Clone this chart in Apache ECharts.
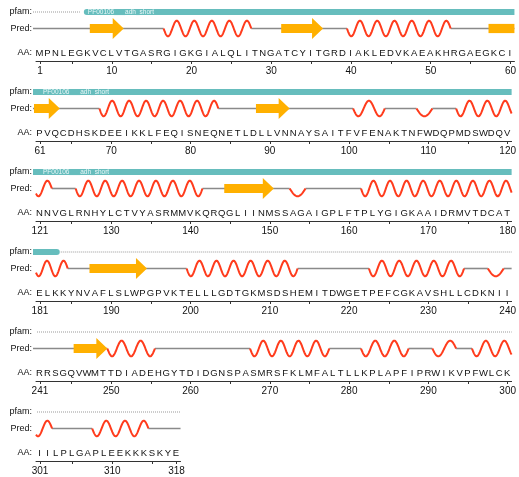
<!DOCTYPE html>
<html><head><meta charset="utf-8">
<script src="https://cdn.jsdelivr.net/npm/echarts@6/dist/echarts.min.js"></script>
<style>html,body{margin:0;padding:0;background:#fff}#c{width:519px;height:477px}</style>
</head><body><div id="c"></div>
<script>
// ---------- data ----------
const sequence =
  "MPNLEGKVCLVTGASRGIGKGIALQLITNGATCYITGRDIAKLEDVKAEAKHRGAEGKCI" +
  "PVQCDHSKDEEIKKLFEQISNEQNETLDLLVNNAYSAITFVFENAKTNFWDQPMDSWDQV" +
  "NNVGLRNHYLCTVYASRMMVKQRQGLIINMSSAGAIGPLFTPLYGIGKAAIDRMVTDCAT" +
  "ELKKYNVAFLSLWPGPVKTELLLGDTGKMSDSHEMITDWGETPEFCGKAVSHLLCDKNII" +
  "RRSGQVWMTTDIADEHGYTDIDGNSPASMRSFKLMFALTLLKPLAPFIPRWIKVPFWLCK" +
  "IILPLGAPLEEKKKSKYE";
const helixSegments = [[17,27],[40,52],[69,83],[101,104],[109,110],[114,122],[126,141],[153,154],
  [162,184],[200,213],[223,234],[238,239],[250,255],[268,277],[282,287],[291,293],[296,302],[308,314]];
const strandSegments = [[8,11],[32,36],[58,63],[89,92],[145,150],[188,194],[246,249]];
const pfamName = "PF00106___adh_short";
const pfamStart = 7;
const pfamEnd = 183;
const trackLabels = ["pfam:", "Pred:", "AA:"];

// ---------- layout / style ----------
const ROW = 60, PITCH = 80, LEFT = 36, RW = 8.03;
const Y_PFAM = 12, Y_PRED = 28.5, Y_AA = 53, Y_AXIS = 61;
const AMP = 7.8;
const FONT = "'Liberation Sans', Arial, Helvetica, sans-serif";
const C_HELIX = "#ff3b1c", C_STRAND = "#ffb000", C_COIL = "#8a8a8a", C_PFAM = "#66bdbd";

const N = sequence.length;
const nRows = Math.ceil(N / ROW);
const isHelix = new Array(N + 2).fill(false);
helixSegments.forEach(([s, e]) => { for (let r = s; r <= e; r++) isHelix[r] = true; });
const coilRuns = [];
for (let r = 1; r <= N; r++) {
  if (!isHelix[r]) {
    let e = r; while (e + 1 <= N && !isHelix[e + 1]) e++;
    coilRuns.push([r, e]); r = e;
  }
}

const grid = [], xAxis = [], yAxis = [], series = [];
for (let k = 0; k < nRows; k++) {
  const o = k * ROW, cnt = Math.min(ROW, N - o);
  const lo = o + 0.5, hi = o + cnt + 0.5;
  grid.push({ left: LEFT, top: k * PITCH, width: RW * cnt, height: Y_AXIS });
  const ticks = [o + 1];
  for (let v = Math.ceil((o + 2) / 5) * 5; v <= o + cnt; v += 5) ticks.push(v);
  if (ticks[ticks.length - 1] !== o + cnt) ticks.push(o + cnt);
  const labels = [o + 1];
  for (let v = Math.ceil((o + 2) / 10) * 10; v <= o + cnt; v += 10) labels.push(v);
  if (labels[labels.length - 1] !== o + cnt) labels.push(o + cnt);
  xAxis.push({
    gridIndex: k, type: "value", min: lo, max: hi,
    axisLine: { show: true, onZero: false, lineStyle: { color: "#333", width: 1 } },
    axisTick: { show: true, customValues: ticks, length: 3, lineStyle: { color: "#333" } },
    axisLabel: { customValues: labels, fontSize: 10, color: "#111", margin: 5, fontFamily: FONT },
    splitLine: { show: false }
  });
  yAxis.push({
    gridIndex: k, type: "value", min: 0, max: Y_AXIS, inverse: true,
    axisLine: { show: false }, axisTick: { show: false }, splitLine: { show: false },
    axisLabel: {
      customValues: [Y_PFAM, Y_PRED, Y_AA], margin: 4, fontSize: 9, color: "#111", fontFamily: FONT,
      formatter: v => v === Y_PFAM ? trackLabels[0] : (v === Y_PRED ? trackLabels[1] : trackLabels[2])
    }
  });
  const clip = (s, e) => [Math.max(s - 0.5, lo), Math.min(e + 0.5, hi)];

  // pfam track
  const pfamData = [];
  {
    const [a, b] = clip(pfamStart, pfamEnd);
    if (a < b) pfamData.push([a, b, 0, pfamStart - 0.5 >= lo ? 1 : 0, pfamEnd + 0.5 <= hi ? 1 : 0]);
    if (pfamStart - 0.5 > lo) pfamData.push([lo, Math.min(pfamStart - 0.5, hi), 1, 0, 1]);
    if (pfamEnd + 0.5 < hi) pfamData.push([Math.max(pfamEnd + 0.5, lo), hi, 1, 1, 0]);
  }
  series.push({
    type: "custom", xAxisIndex: k, yAxisIndex: k, data: pfamData, silent: true,
    renderItem: (p, api) => {
      const a = api.value(0), b = api.value(1), kind = api.value(2);
      const p0 = api.coord([a, Y_PFAM]), p1 = api.coord([b, Y_PFAM]);
      if (kind === 0) {
        const rl = api.value(3) ? 3 : 0, rr = api.value(4) ? 3 : 0;
        const x0 = rl ? p0[0] : p0[0] - 3;
        const ch = [{ type: "rect", shape: { x: x0, y: p0[1] - 3, width: p1[0] - x0, height: 6, r: [rl, rr, rr, rl] },
          style: { fill: C_PFAM } }];
        if (p1[0] - p0[0] > 90) {
          ch.push({ type: "text", style: { text: pfamName, x: p0[0] + (rl ? 4 : 7), y: p0[1] + 0.5, fill: "#e9f7f7",
            fontSize: 6.5, fontFamily: FONT, align: "left", verticalAlign: "middle" } });
        }
        return { type: "group", children: ch };
      }
      const g0 = api.value(3) ? 4 : 0, g1 = api.value(4) ? 4 : 0;
      return { type: "line", shape: { x1: p0[0] - 3 + g0, y1: p0[1], x2: p1[0] - g1, y2: p1[1] },
        style: { stroke: "#999", lineWidth: 1, lineDash: [1, 1] } };
    }
  });

  // coil
  const coilData = [];
  coilRuns.forEach(([s, e]) => { const [a, b] = clip(s, e); if (a < b) coilData.push([a, b, a === lo ? 1 : 0]); });
  series.push({
    type: "custom", xAxisIndex: k, yAxisIndex: k, data: coilData, silent: true,
    renderItem: (p, api) => {
      const p0 = api.coord([api.value(0), Y_PRED]), p1 = api.coord([api.value(1), Y_PRED]);
      const x0 = api.value(2) ? p0[0] - 3 : p0[0];
      return { type: "line", shape: { x1: x0, y1: p0[1], x2: p1[0], y2: p1[1] },
        style: { stroke: C_COIL, lineWidth: 1.6 } };
    }
  });

  // helices
  const helixData = [];
  helixSegments.forEach(([s, e]) => { const [a, b] = clip(s, e); if (a < b) helixData.push([s, e, a, b]); });
  series.push({
    type: "custom", xAxisIndex: k, yAxisIndex: k, data: helixData, silent: true,
    renderItem: (p, api) => {
      const s = api.value(0), e = api.value(1), a = api.value(2), b = api.value(3);
      const L = e - s + 1, n = Math.max(1, L - 1);
      const pts = [];
      const steps = Math.ceil((b - a) / 0.05);
      for (let i = 0; i <= steps; i++) {
        const r = a + (b - a) * i / steps;
        const t = (r - (s - 0.5)) / L * n;
        pts.push(api.coord([r, Y_PRED + AMP * Math.sin(Math.PI * t)]));
      }
      return { type: "polyline", shape: { points: pts }, style: { stroke: C_HELIX, lineWidth: 2, fill: null } };
    }
  });

  // strands
  const strandData = [];
  strandSegments.forEach(([s, e]) => { const [a, b] = clip(s, e); if (a < b) strandData.push([a, b, e + 0.5 <= hi ? 1 : 0]); });
  series.push({
    type: "custom", xAxisIndex: k, yAxisIndex: k, data: strandData, silent: true,
    renderItem: (p, api) => {
      const p0 = api.coord([api.value(0), Y_PRED]), p1 = api.coord([api.value(1), Y_PRED]);
      const y = p0[1], x0 = p0[0] - 2, xt = p1[0];
      let pts;
      if (api.value(2)) {
        const xh = xt - 11;
        pts = [[x0, y - 4.6], [xh, y - 4.6], [xh, y - 10.4], [xt, y], [xh, y + 10.4], [xh, y + 4.6], [x0, y + 4.6]];
      } else {
        pts = [[x0, y - 4.6], [xt, y - 4.6], [xt, y + 4.6], [x0, y + 4.6]];
      }
      return { type: "polygon", shape: { points: pts }, style: { fill: C_STRAND } };
    }
  });

  // amino acid letters
  const aaData = [];
  for (let r = o + 1; r <= o + cnt; r++) aaData.push([r, r - 1]);
  series.push({
    type: "custom", xAxisIndex: k, yAxisIndex: k, data: aaData, silent: true,
    renderItem: (p, api) => {
      const pt = api.coord([api.value(0), Y_AA]);
      return { type: "text", style: { text: sequence.charAt(api.value(1)), x: pt[0] - 0.5, y: pt[1], fill: "#111",
        fontSize: 9.5, fontFamily: FONT, align: "center", verticalAlign: "middle" } };
    }
  });
}

const chart = echarts.init(document.getElementById("c"), null, { renderer: "canvas" });
chart.setOption({ animation: false, backgroundColor: "#fff", textStyle: { fontFamily: FONT }, grid, xAxis, yAxis, series });
</script></body></html>
